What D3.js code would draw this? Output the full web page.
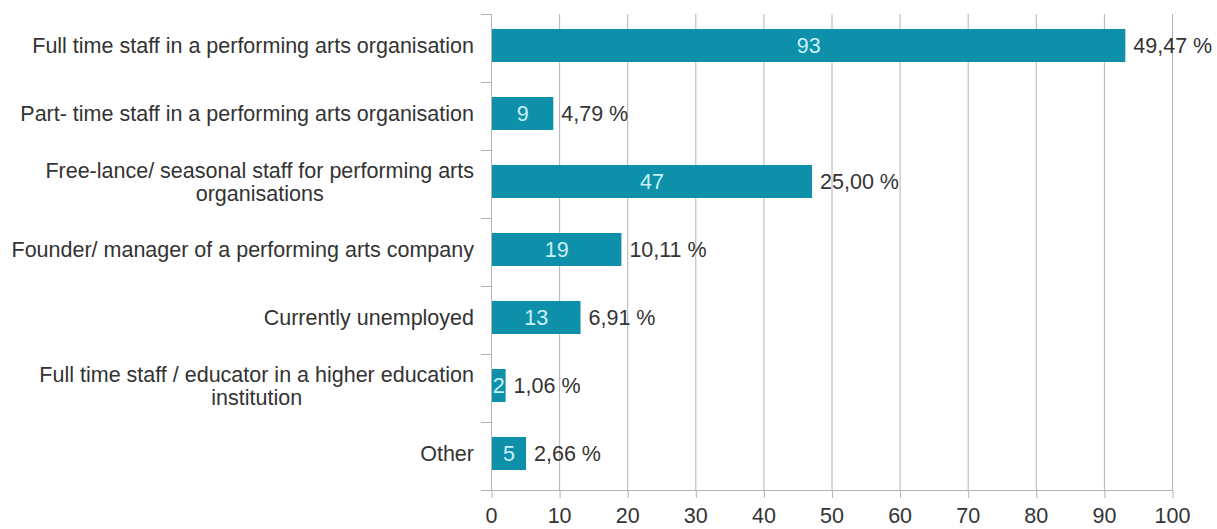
<!DOCTYPE html>
<html>
<head>
<meta charset="utf-8">
<script src="https://cdn.jsdelivr.net/npm/d3@7"></script>
<style>
  html, body { margin: 0; padding: 0; background: #fff; }
  svg { display: block; font-family: "Liberation Sans", Arial, sans-serif; }
</style>
</head>
<body>
<svg id="chart" width="1217" height="529"></svg>
<script>
// Survey: current professional situation of respondents
const categories = [
  ["Full time staff in a performing arts organisation"],
  ["Part- time staff in a performing arts organisation"],
  ["Free-lance/ seasonal staff for performing arts", "organisations"],
  ["Founder/ manager of a performing arts company"],
  ["Currently unemployed"],
  ["Full time staff / educator in a higher education", "institution"],
  ["Other"]
];
const counts = [93, 9, 47, 19, 13, 2, 5];
const percents = [49.47, 4.79, 25.00, 10.11, 6.91, 1.06, 2.66];
const xTicks = [0, 10, 20, 30, 40, 50, 60, 70, 80, 90, 100];

const svg = d3.select("#chart");
const margin = { left: 491, right: 45, top: 14, bottom: 39 };
const W = 1217, H = 529;
const innerW = W - margin.left - margin.right;
const innerH = H - margin.top - margin.bottom;
const fontSize = 21.5;

const x = d3.scaleLinear().domain([0, 100]).range([0, innerW]);
// bars sit slightly above the middle of each category slot
const y = d3.scaleBand().domain(d3.range(categories.length))
  .range([-2.5, innerH - 2.5]).paddingInner(0.515).paddingOuter(0.2575);

const g = svg.append("g").attr("transform", `translate(${margin.left},${margin.top})`);

const gridColor = "#b3b3b3";

// vertical grid lines
g.append("g").selectAll("line").data(xTicks).join("line")
  .attr("x1", d => x(d) + 0.5).attr("x2", d => x(d) + 0.5)
  .attr("y1", 0).attr("y2", innerH)
  .attr("stroke", gridColor).attr("stroke-width", 1);

// bottom axis
const xAxis = g.append("g").attr("transform", `translate(0,${innerH})`)
  .call(d3.axisBottom(x).tickValues(xTicks).tickSize(8).tickPadding(10).tickFormat(d3.format("d")));
xAxis.select(".domain").attr("stroke", gridColor).attr("d", `M0.5,0.5H${innerW + 0.5}`);
xAxis.selectAll(".tick line").attr("stroke", gridColor).attr("x1", 0.5).attr("x2", 0.5);
xAxis.selectAll(".tick text").attr("fill", "#333").attr("font-size", fontSize)
  .attr("font-family", "Liberation Sans, Arial, sans-serif");

// left category axis with ticks at slot boundaries
const step = innerH / categories.length;
const boundaries = d3.range(categories.length + 1).map(i => i * step);
g.append("line").attr("x1", 0.5).attr("x2", 0.5).attr("y1", 0).attr("y2", innerH)
  .attr("stroke", gridColor);
g.append("g").selectAll("line").data(boundaries).join("line")
  .attr("x1", -10).attr("x2", 0).attr("y1", d => Math.round(d) + 0.5).attr("y2", d => Math.round(d) + 0.5)
  .attr("stroke", gridColor);

// category labels (multi-line labels are centered within a right-aligned block)
const labelRight = -17;
const lineH = 23;
categories.forEach((lines, i) => {
  const cy = y(i) + y.bandwidth() / 2;
  const t = g.append("text").attr("font-size", fontSize).attr("fill", "#333");
  lines.forEach(ln => t.append("tspan").text(ln));
  const tsp = t.selectAll("tspan").nodes();
  const maxW = d3.max(tsp, n => n.getComputedTextLength());
  const cx = labelRight - maxW / 2;
  tsp.forEach((n, j) => {
    d3.select(n).attr("x", cx).attr("text-anchor", "middle")
      .attr("y", cy + (j - (lines.length - 1) / 2) * lineH)
      .attr("dy", "0.35em");
  });
});

const barColor = "#0e90aa";

// bars
g.append("g").selectAll("rect").data(counts).join("rect")
  .attr("x", x(0) + 1).attr("y", (d, i) => y(i))
  .attr("width", d => x(d) - x(0)).attr("height", y.bandwidth())
  .attr("fill", barColor);

// counts inside bars
g.append("g").selectAll("text").data(counts).join("text")
  .attr("x", d => x(0) + 1 + (x(d) - x(0)) / 2)
  .attr("y", (d, i) => y(i) + y.bandwidth() / 2)
  .attr("dy", "0.35em").attr("text-anchor", "middle")
  .attr("font-size", fontSize).attr("fill", "#c9f1f8")
  .text(d => d);

// percentages beyond bars
const fmtPct = v => v.toFixed(2).replace(".", ",") + " %";
g.append("g").selectAll("text").data(counts).join("text")
  .attr("x", d => x(d) + 9)
  .attr("y", (d, i) => y(i) + y.bandwidth() / 2)
  .attr("dy", "0.35em")
  .attr("font-size", fontSize).attr("fill", "#333")
  .text((d, i) => fmtPct(percents[i]));
</script>
</body>
</html>
